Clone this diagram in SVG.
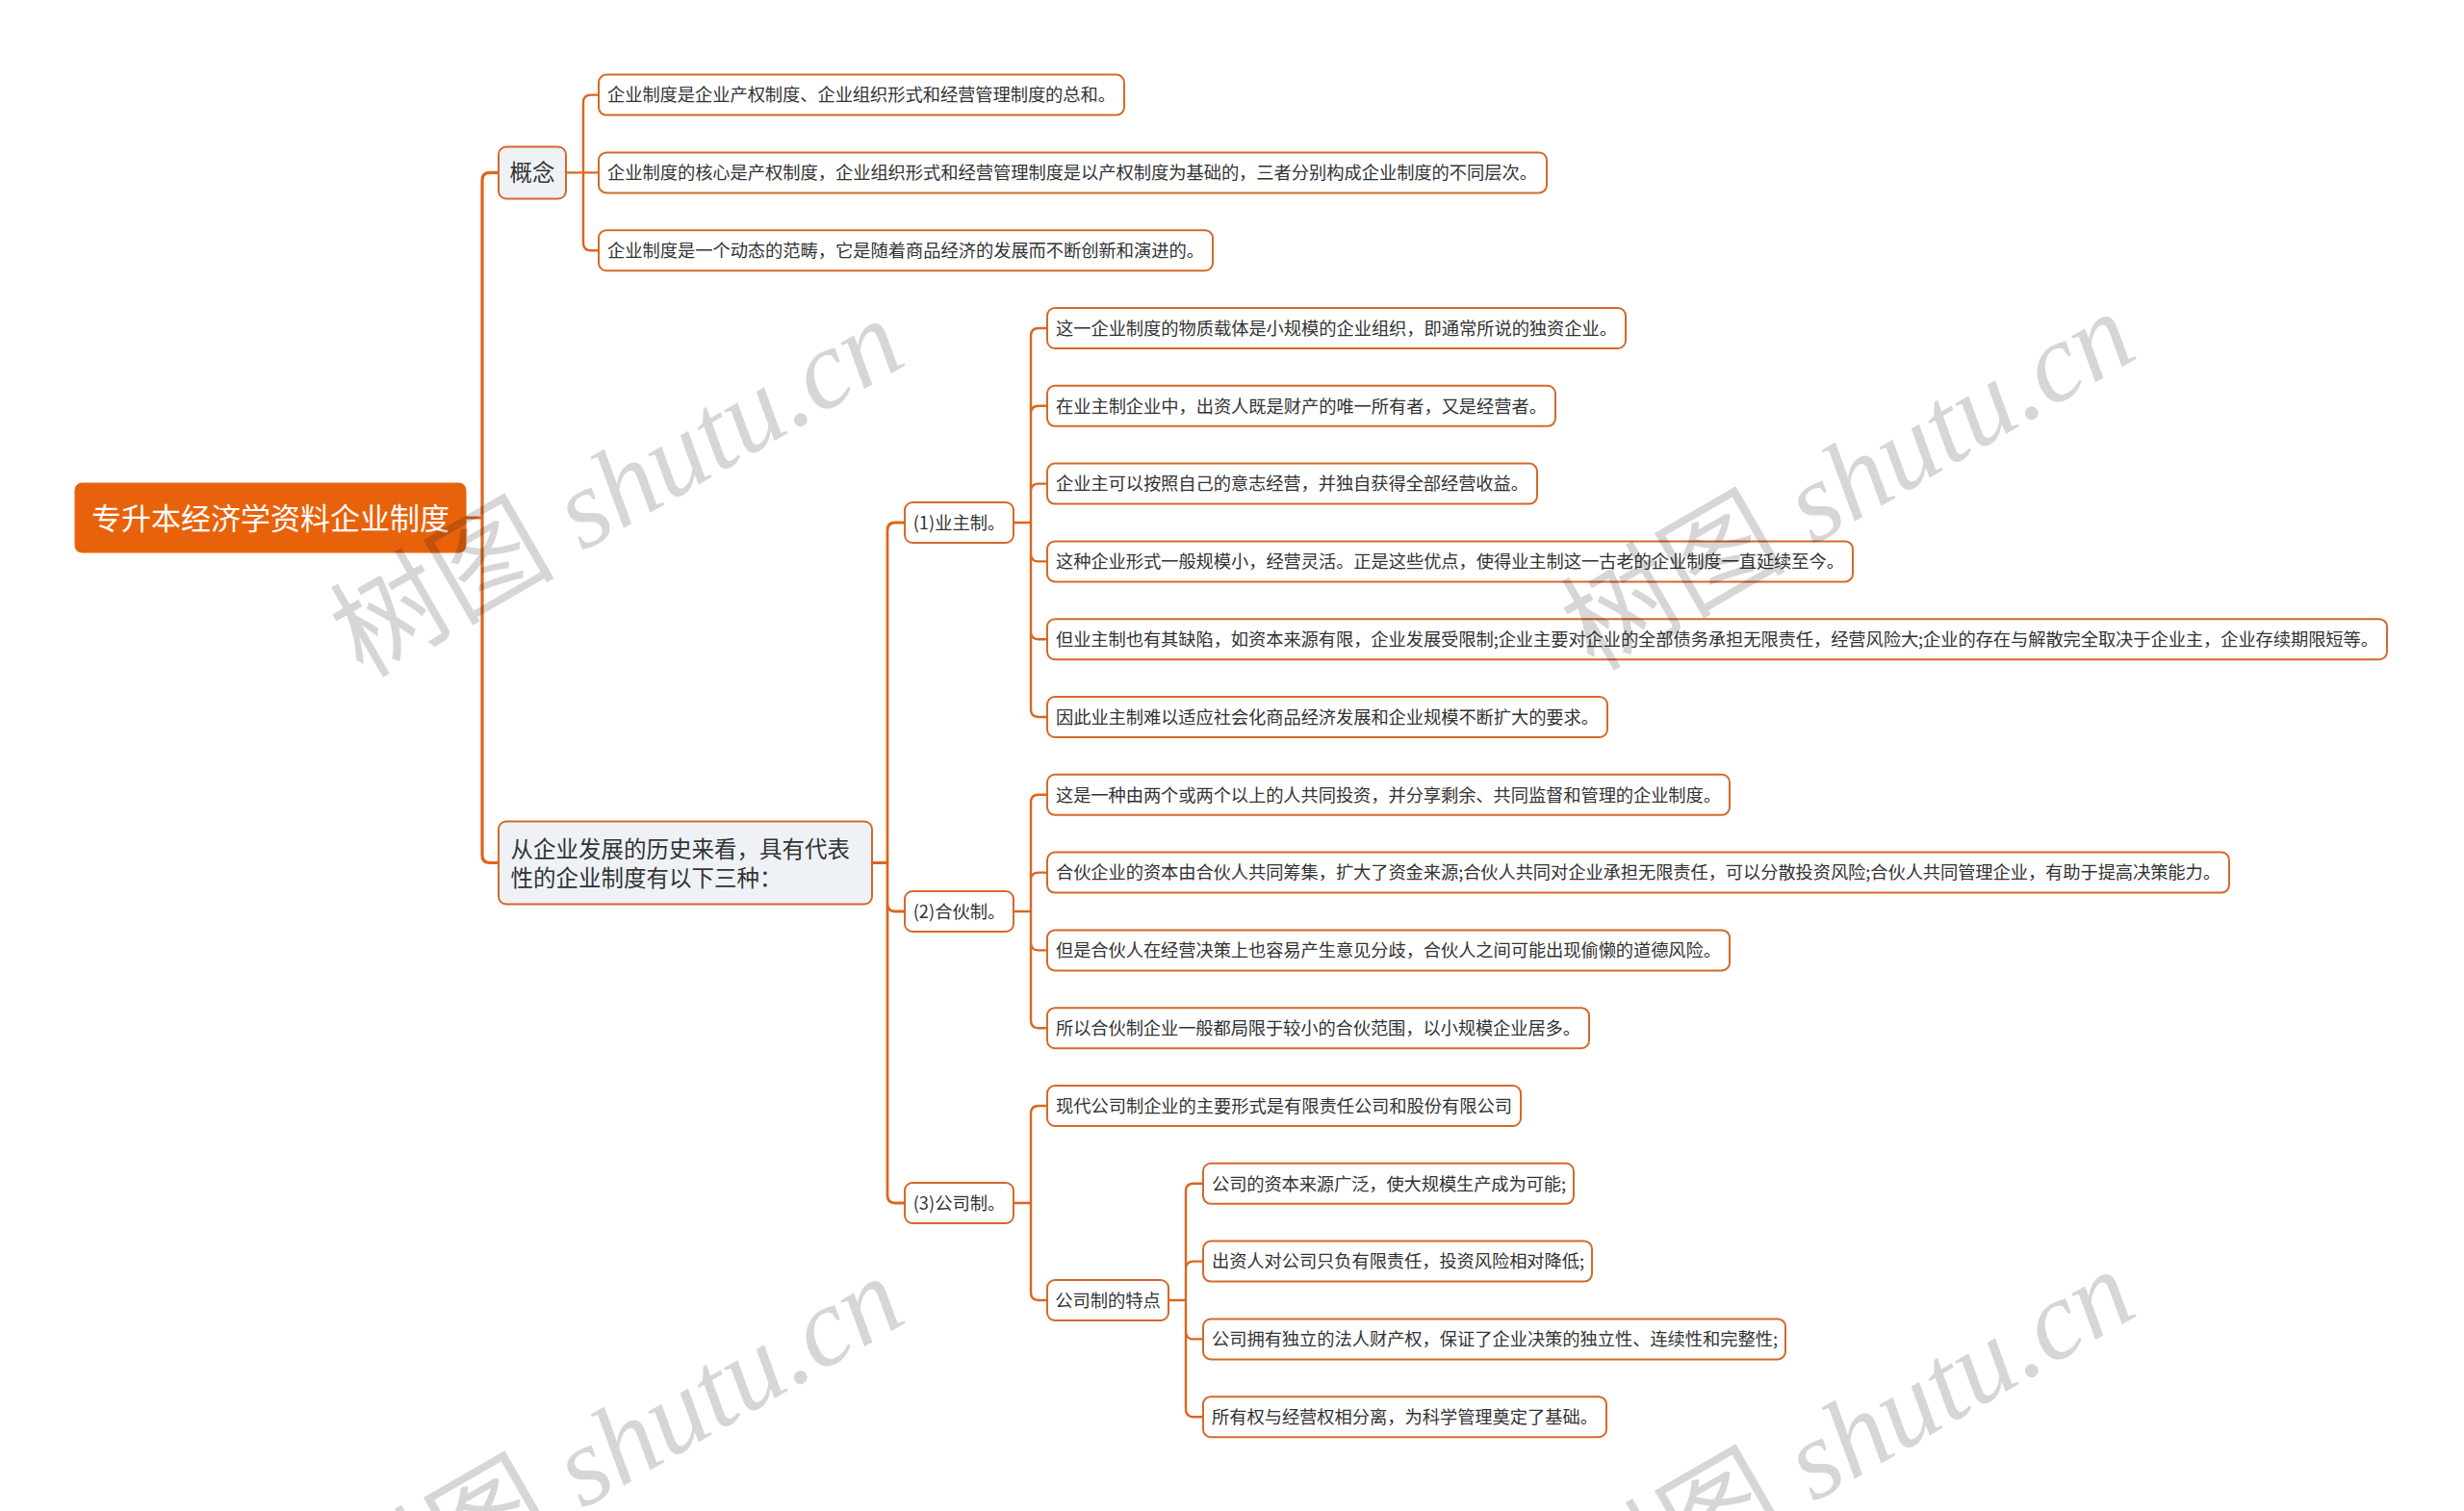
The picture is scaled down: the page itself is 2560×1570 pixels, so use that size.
<svg xmlns="http://www.w3.org/2000/svg" width="2560" height="1570" viewBox="0 0 2560 1570">
<style>
.t{font-family:"Noto Sans CJK SC","Liberation Sans",sans-serif;fill:#333333;}
.s{font-size:18.3px;}
.leaf{fill:#ffffff;stroke:#D4692A;stroke-width:2;}
.sub{fill:#EEF2F6;stroke:#D4692A;stroke-width:2;}
.c{fill:none;stroke:#DC661C;stroke-linecap:round;stroke-linejoin:round;}
.c1{stroke-width:3.2;}
.c2{stroke-width:2.8;}
.c3{stroke-width:2.4;}
.wm{font-size:117px;fill:#000000;fill-opacity:0.16;}
</style>
<rect width="2560" height="1570" fill="#ffffff"/>
<g id="connectors">
<path class="c c1" d="M485,538 H501 M501,538 V187.4 Q501,179.4 509,179.4 H518 M501,538 V888.5 Q501,896.5 509,896.5 H518"/>
<path class="c c3" d="M588,179.4 H622 M606,179.4 V106.6 Q606,98.6 614,98.6 H622 M606,179.4 V252.2 Q606,260.2 614,260.2 H622"/>
<path class="c c2" d="M906,896.5 H922 M922,896.5 V551 Q922,543 930,543 H940 M922,896.5 V939 Q922,947 930,947 H940 M922,896.5 V1242 Q922,1250 930,1250 H940"/>
<path class="c c3" d="M1053,543 H1071 M1071,543 V349 Q1071,341 1079,341 H1088 M1071,543 V429.8 Q1071,421.8 1079,421.8 H1088 M1071,543 V510.6 Q1071,502.6 1079,502.6 H1088 M1071,543 V575.4 Q1071,583.4 1079,583.4 H1088 M1071,543 V656.2 Q1071,664.2 1079,664.2 H1088 M1071,543 V737 Q1071,745 1079,745 H1088"/>
<path class="c c3" d="M1053,947 H1071 M1071,947 V833.8 Q1071,825.8 1079,825.8 H1088 M1071,947 V914.6 Q1071,906.6 1079,906.6 H1088 M1071,947 V979.4 Q1071,987.4 1079,987.4 H1088 M1071,947 V1060.2 Q1071,1068.2 1079,1068.2 H1088"/>
<path class="c c3" d="M1053,1250 H1071 M1071,1250 V1157 Q1071,1149 1079,1149 H1088 M1071,1250 V1343 Q1071,1351 1079,1351 H1088"/>
<path class="c c3" d="M1214,1351 H1232 M1232,1351 V1237.8 Q1232,1229.8 1240,1229.8 H1250 M1232,1351 V1318.6 Q1232,1310.6 1240,1310.6 H1250 M1232,1351 V1383.4 Q1232,1391.4 1240,1391.4 H1250 M1232,1351 V1464.2 Q1232,1472.2 1240,1472.2 H1250"/>
</g>
<g id="root">
<rect x="77.5" y="501.5" width="407" height="73" rx="8" fill="#E8620C"/>
<text x="281" y="549.5" text-anchor="middle" font-family="Noto Sans CJK SC, sans-serif" font-size="31" fill="#ffffff">专升本经济学资料企业制度</text>
</g>
<g id="n-gainian">
<rect class="sub" x="518" y="152.5" width="70" height="54" rx="8"/>
<text class="t" x="553" y="188.3" text-anchor="middle" font-size="23.5">概念</text>
</g>
<g id="n-gn1">
<rect class="leaf" x="622" y="77.6" width="546" height="42" rx="8"/>
<text class="t s" x="631" y="105.4" textLength="528" lengthAdjust="spacing">企业制度是企业产权制度、企业组织形式和经营管理制度的总和。</text>
</g>
<g id="n-gn2">
<rect class="leaf" x="622" y="158.4" width="985" height="42" rx="8"/>
<text class="t s" x="631" y="186.2" textLength="966" lengthAdjust="spacing">企业制度的核心是产权制度，企业组织形式和经营管理制度是以产权制度为基础的，三者分别构成企业制度的不同层次。</text>
</g>
<g id="n-gn3">
<rect class="leaf" x="622" y="239.2" width="638" height="42" rx="8"/>
<text class="t s" x="631" y="267" textLength="620" lengthAdjust="spacing">企业制度是一个动态的范畴，它是随着商品经济的发展而不断创新和演进的。</text>
</g>
<g id="n-history">
<rect class="sub" x="518" y="853.5" width="388" height="86" rx="8"/>
<text class="t" x="530.5" y="890.5" font-size="23.5">从企业发展的历史来看，具有代表</text>
<text class="t" x="530.5" y="920.5" font-size="23.5">性的企业制度有以下三种：</text>
</g>
<g id="n-yezhu">
<rect class="leaf" x="940" y="522" width="113" height="42" rx="8"/>
<text class="t s" x="996.5" y="549.8" text-anchor="middle">(1)业主制。</text>
</g>
<g id="n-yz1">
<rect class="leaf" x="1088" y="320" width="601" height="42" rx="8"/>
<text class="t s" x="1097" y="347.8" textLength="583" lengthAdjust="spacing">这一企业制度的物质载体是小规模的企业组织，即通常所说的独资企业。</text>
</g>
<g id="n-yz2">
<rect class="leaf" x="1088" y="400.8" width="528" height="42" rx="8"/>
<text class="t s" x="1097" y="428.6" textLength="510" lengthAdjust="spacing">在业主制企业中，出资人既是财产的唯一所有者，又是经营者。</text>
</g>
<g id="n-yz3">
<rect class="leaf" x="1088" y="481.6" width="509" height="42" rx="8"/>
<text class="t s" x="1097" y="509.4" textLength="491" lengthAdjust="spacing">企业主可以按照自己的意志经营，并独自获得全部经营收益。</text>
</g>
<g id="n-yz4">
<rect class="leaf" x="1088" y="562.4" width="837" height="42" rx="8"/>
<text class="t s" x="1097" y="590.2" textLength="819" lengthAdjust="spacing">这种企业形式一般规模小，经营灵活。正是这些优点，使得业主制这一古老的企业制度一直延续至今。</text>
</g>
<g id="n-yz5">
<rect class="leaf" x="1088" y="643.2" width="1392" height="42" rx="8"/>
<text class="t s" x="1097" y="671" textLength="1374" lengthAdjust="spacing">但业主制也有其缺陷，如资本来源有限，企业发展受限制;企业主要对企业的全部债务承担无限责任，经营风险大;企业的存在与解散完全取决于企业主，企业存续期限短等。</text>
</g>
<g id="n-yz6">
<rect class="leaf" x="1088" y="724" width="582" height="42" rx="8"/>
<text class="t s" x="1097" y="751.8" textLength="564" lengthAdjust="spacing">因此业主制难以适应社会化商品经济发展和企业规模不断扩大的要求。</text>
</g>
<g id="n-hehuo">
<rect class="leaf" x="940" y="926" width="113" height="42" rx="8"/>
<text class="t s" x="996.5" y="953.8" text-anchor="middle">(2)合伙制。</text>
</g>
<g id="n-hh1">
<rect class="leaf" x="1088" y="804.8" width="709" height="42" rx="8"/>
<text class="t s" x="1097" y="832.6" textLength="691" lengthAdjust="spacing">这是一种由两个或两个以上的人共同投资，并分享剩余、共同监督和管理的企业制度。</text>
</g>
<g id="n-hh2">
<rect class="leaf" x="1088" y="885.6" width="1228" height="42" rx="8"/>
<text class="t s" x="1097" y="913.4" textLength="1210" lengthAdjust="spacing">合伙企业的资本由合伙人共同筹集，扩大了资金来源;合伙人共同对企业承担无限责任，可以分散投资风险;合伙人共同管理企业，有助于提高决策能力。</text>
</g>
<g id="n-hh3">
<rect class="leaf" x="1088" y="966.4" width="709" height="42" rx="8"/>
<text class="t s" x="1097" y="994.2" textLength="691" lengthAdjust="spacing">但是合伙人在经营决策上也容易产生意见分歧，合伙人之间可能出现偷懒的道德风险。</text>
</g>
<g id="n-hh4">
<rect class="leaf" x="1088" y="1047.2" width="563" height="42" rx="8"/>
<text class="t s" x="1097" y="1075" textLength="545" lengthAdjust="spacing">所以合伙制企业一般都局限于较小的合伙范围，以小规模企业居多。</text>
</g>
<g id="n-gongsi">
<rect class="leaf" x="940" y="1229" width="113" height="42" rx="8"/>
<text class="t s" x="996.5" y="1256.8" text-anchor="middle">(3)公司制。</text>
</g>
<g id="n-gs1">
<rect class="leaf" x="1088" y="1128" width="492" height="42" rx="8"/>
<text class="t s" x="1097" y="1155.8" textLength="474" lengthAdjust="spacing">现代公司制企业的主要形式是有限责任公司和股份有限公司</text>
</g>
<g id="n-tedian">
<rect class="leaf" x="1088" y="1330" width="126" height="42" rx="8"/>
<text class="t s" x="1151" y="1357.8" text-anchor="middle">公司制的特点</text>
</g>
<g id="n-td1">
<rect class="leaf" x="1250" y="1208.8" width="385" height="42" rx="8"/>
<text class="t s" x="1259" y="1236.6" textLength="368" lengthAdjust="spacing">公司的资本来源广泛，使大规模生产成为可能;</text>
</g>
<g id="n-td2">
<rect class="leaf" x="1250" y="1289.6" width="404" height="42" rx="8"/>
<text class="t s" x="1259" y="1317.4" textLength="387" lengthAdjust="spacing">出资人对公司只负有限责任，投资风险相对降低;</text>
</g>
<g id="n-td3">
<rect class="leaf" x="1250" y="1370.4" width="605" height="42" rx="8"/>
<text class="t s" x="1259" y="1398.2" textLength="588" lengthAdjust="spacing">公司拥有独立的法人财产权，保证了企业决策的独立性、连续性和完整性;</text>
</g>
<g id="n-td4">
<rect class="leaf" x="1250" y="1451.2" width="419" height="42" rx="8"/>
<text class="t s" x="1259" y="1479" textLength="401" lengthAdjust="spacing">所有权与经营权相分离，为科学管理奠定了基础。</text>
</g>
<g id="watermarks">
<text class="wm" x="661" y="541" text-anchor="middle" transform="rotate(-30 661 541)"><tspan font-family="Noto Sans CJK SC, sans-serif">树图</tspan><tspan font-family="Liberation Serif, serif" font-style="italic"> shutu.cn</tspan></text>
<text class="wm" x="1940" y="534" text-anchor="middle" transform="rotate(-30 1940 534)"><tspan font-family="Noto Sans CJK SC, sans-serif">树图</tspan><tspan font-family="Liberation Serif, serif" font-style="italic"> shutu.cn</tspan></text>
<text class="wm" x="661" y="1536" text-anchor="middle" transform="rotate(-30 661 1536)"><tspan font-family="Noto Sans CJK SC, sans-serif">树图</tspan><tspan font-family="Liberation Serif, serif" font-style="italic"> shutu.cn</tspan></text>
<text class="wm" x="1940" y="1529" text-anchor="middle" transform="rotate(-30 1940 1529)"><tspan font-family="Noto Sans CJK SC, sans-serif">树图</tspan><tspan font-family="Liberation Serif, serif" font-style="italic"> shutu.cn</tspan></text>
</g>
</svg>
